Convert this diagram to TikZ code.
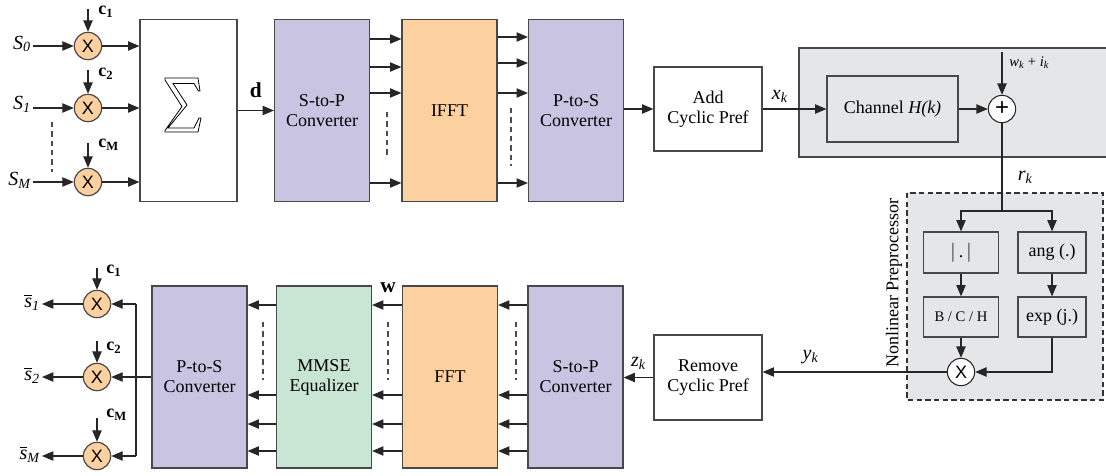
\documentclass[tikz,border=0pt]{standalone}
\usepackage{amsmath}
\usepackage{graphicx}
\usepackage{fontspec}
\setmainfont{Liberation Serif}
\newfontfamily\multfont{Liberation Sans}
\usepackage{tikz}
\usetikzlibrary{arrows.meta,calc}

\definecolor{convblue}{RGB}{201,196,226}
\definecolor{fftorange}{RGB}{253,208,159}
\definecolor{eqgreen}{RGB}{201,230,212}
\definecolor{chgray}{RGB}{229,230,232}
\definecolor{boxedge}{RGB}{72,72,72}

\begin{document}
\begin{tikzpicture}[x=0.75pt,y=0.75pt,yscale=-1,xscale=1,
  font=\fontsize{13.5}{15}\selectfont,
  blk/.style={draw=boxedge,line width=0.9pt,align=center,inner sep=0pt,minimum width=71.25pt},
  tallblk/.style={blk,minimum height=137pt},
  cpblk/.style={blk,minimum width=81pt,minimum height=63pt},
  nlblk/.style={blk,fill=chgray,minimum height=30pt},
  mult/.style={circle,draw=boxedge,fill=fftorange,line width=0.9pt,minimum size=20.5pt,inner sep=0pt,font=\multfont\fontsize{13.5}{13.5}\selectfont},
  sig/.style={draw=black!85,line width=0.8pt,-{Triangle[length=8.5pt,width=7pt]}},
  wire/.style={draw=black!85,line width=0.8pt},
  dots/.style={draw=black!70,line width=0.8pt,dash pattern=on 4pt off 3pt},
  lbl/.style={inner sep=1.5pt},
  symlbl/.style={lbl,font=\fontsize{15}{15}\selectfont},
]
\useasboundingbox (0,0) rectangle (1106,475);

%Shape: Rectangle (gray backgrounds)
\path[draw=boxedge,line width=0.9pt,fill=chgray] (799,48) rectangle (1112,157);
\path[draw=black!80,line width=0.8pt,dash pattern=on 4pt off 2.5pt,fill=chgray] (907,193) rectangle (1103,400);

%%% transmitter
%Shape: Circle
\node[mult] (m1) at (88,46) {X};
\node[mult] (m2) at (88,108) {X};
\node[mult] (m3) at (88,182) {X};
%Text
\node[symlbl,anchor=east] (s0) at (33,44) {\textit{S}$_{\textit{0}}$};
\node[symlbl,anchor=east] (s1) at (33,104) {\textit{S}$_{\textit{1}}$};
\node[symlbl,anchor=east] (sM) at (33,180) {\textit{S}$_{\textit{M}}$};
\node[lbl,anchor=west] (c1) at (96,12) {\textbf{c}$_{\textbf{1}}$};
\node[lbl,anchor=west] (c2) at (96,74) {\textbf{c}$_{\textbf{2}}$};
\node[lbl,anchor=west] (cM) at (96,145) {\textbf{c}$_{\textbf{M}}$};
\coordinate (c1in) at (88,9);
\coordinate (c2in) at (88,70);
\coordinate (cMin) at (88,143);

%Shape: Rectangle
\node[tallblk,minimum width=72.75pt] (sum) at (188.5,110.5) {};
\node[tallblk,fill=convblue] (s2p) at (322,110.5) {S-to-P\\Converter};
\node[tallblk,fill=fftorange] (ifft) at (449.5,110.5) {IFFT};
\node[tallblk,fill=convblue] (p2s) at (576,110.5) {P-to-S\\Converter};
\node[cpblk] (add) at (708,109) {Add\\Cyclic Pref};
\node[blk,fill=chgray,minimum width=98.25pt,minimum height=49.5pt] (chan) at (892.5,109) {Channel \textit{H(k)}};
\node[circle,draw=black!85,fill=white,line width=0.8pt,minimum size=20.5pt,inner sep=0pt,font=\multfont\fontsize{18}{18}\selectfont] (plus) at (1002,109) {+};

%Shape: Polygon (hollow sigma)
\begin{scope}[shift={(sum.center)}]
\draw[line width=0.6pt,fill=white] (-23.5,-32.5) -- (9.5,-32.5) -- (11.5,-19.5) -- (10,-19.5) -- (5.5,-27) -- (-15.5,-27) -- (-1.5,-5.5) -- (-20.5,17.5) -- (5.5,17.5) -- (10.5,7.5) -- (12.5,7.5) -- (9.5,21.5) -- (-23.5,21.5) -- (-23.5,20) -- (-6.5,-4) -- (-23.5,-30.5) -- cycle;
\end{scope}

%Straight Lines
\draw[sig] (s0.east |- m1) -- (m1);
\draw[sig] (s1.east |- m2) -- (m2);
\draw[sig] (sM.east |- m3) -- (m3);
\draw[sig] (c1in) -- (m1);
\draw[sig] (c2in) -- (m2);
\draw[sig] (cMin) -- (m3);
\draw[dots] (52,122) -- (52,172);
\foreach \m in {m1,m2,m3}
  \draw[sig] (\m) -- (\m -| sum.west);
\draw[sig] (sum) -- (s2p) node[pos=0.5,above=6pt,font=\fontsize{16}{16}\selectfont\bfseries] (dlbl) {d};
\foreach \y in {39,67,93,183}
  \draw[sig] (s2p.east |- 0,\y) -- (ifft.west |- 0,\y);
\foreach \y in {37,63,93,183}
  \draw[sig] (ifft.east |- 0,\y) -- (p2s.west |- 0,\y);
\draw[dots] (387,112) -- (387,158);
\draw[dots] (511,108) -- (511,166);
\draw[sig] (p2s.east |- add) -- (add);
\draw[sig] (add) -- (chan) node[symlbl,pos=0.27,above=3pt] (xk) {\textit{x}$_{\textit{k}}$};
\draw[sig] (chan) -- (plus);
\coordinate (noise) at (1002,52);
\draw[sig] (noise) -- (plus);
\node[lbl,anchor=west,font=\fontsize{11}{11}\selectfont] (wi) at (1007,63) {\textit{w}$_{\textit{k}}$ + \textit{i}$_{\textit{k}}$};

%%% nonlinear preprocessor
\node[lbl,rotate=90] (nlp) at (894,283) {Nonlinear Preprocessor};
\node[nlblk,minimum width=56.25pt,minimum height=30.75pt] (absv) at (961,252.5) {$|$\,.\,$|$};
\node[nlblk,minimum width=51pt,minimum height=30.75pt] (ang) at (1052,252.5) {ang (.)};
\node[nlblk,minimum width=56.25pt,font=\fontsize{11}{11}\selectfont] (bch) at (961,317) {B / C / H};
\node[nlblk,minimum width=51pt] (expj) at (1052,317) {exp (j.)};
\node[circle,draw=black!85,fill=white,line width=0.8pt,minimum size=20.5pt,inner sep=0pt,font=\multfont\fontsize{13.5}{13.5}\selectfont] (mr) at (961,372) {X};
\coordinate (split) at (1002,211);
\draw[wire] (plus) -- (split) node[symlbl,pos=0.62,right=10pt] (rk) {\textit{r}$_{\textit{k}}$};
\draw[sig] (split) -| (absv);
\draw[sig] (split) -| (ang);
\draw[sig] (absv) -- (bch);
\draw[sig] (ang) -- (expj);
\draw[sig] (bch) -- (mr);
\draw[sig] (expj) |- (mr);

%%% receiver
\node[cpblk,minimum height=63.75pt] (rem) at (708,377.5) {Remove\\Cyclic Pref};
\node[tallblk,fill=convblue,minimum height=136.5pt] (s2pb) at (575.5,377) {S-to-P\\Converter};
\node[tallblk,fill=fftorange,minimum height=136.5pt] (fft) at (450,377) {FFT};
\node[tallblk,fill=eqgreen,minimum height=136.5pt] (mmse) at (324,377) {MMSE\\Equalizer};
\node[tallblk,fill=convblue,minimum height=136.5pt] (p2sb) at (199.5,377) {P-to-S\\Converter};
\draw[sig] (mr) -- (mr -| rem.east) node[symlbl,pos=0.74,above=4pt] (yk) {\textit{y}$_{\textit{k}}$};
\draw[sig] (rem) -- (rem -| s2pb.east) node[symlbl,pos=0.5,above=4pt] (zk) {\textit{z}$_{\textit{k}}$};
\foreach \y in {305,395,424,451} {
  \draw[sig] (s2pb.west |- 0,\y) -- (fft.east |- 0,\y);
  \draw[sig] (fft.west |- 0,\y) -- (mmse.east |- 0,\y);
  \draw[sig] (mmse.west |- 0,\y) -- (p2sb.east |- 0,\y);
}
\draw[dots] (516,322) -- (516,380);
\draw[dots] (388,322) -- (388,380);
\draw[dots] (263,322) -- (263,380);
\node[lbl,font=\fontsize{16}{16}\selectfont\bfseries] (wlbl) at (388,288) {w};

%Shape: Circle
\node[mult] (o1) at (97,304) {X};
\node[mult] (o2) at (97,377) {X};
\node[mult] (o3) at (97,456) {X};
\coordinate (bus) at (136,377);
\draw[sig] (p2sb.west) -- (o2);
\draw[wire] (bus |- o1) -- (bus |- o3);
\draw[sig] (bus |- o1) -- (o1);
\draw[sig] (bus |- o3) -- (o3);
\node[lbl,anchor=west] (oc1) at (104,271) {\textbf{c}$_{\textbf{1}}$};
\node[lbl,anchor=west] (oc2) at (104,348) {\textbf{c}$_{\textbf{2}}$};
\node[lbl,anchor=west] (ocM) at (104,415) {\textbf{c}$_{\textbf{M}}$};
\coordinate (oc1in) at (97,268);
\coordinate (oc2in) at (97,341);
\coordinate (ocMin) at (97,418);
\draw[sig] (oc1in) -- (o1);
\draw[sig] (oc2in) -- (o2);
\draw[sig] (ocMin) -- (o3);
\node[symlbl,anchor=east] (so1) at (42,302) {$\overline{\textit{s}}_{\textit{1}}$};
\node[symlbl,anchor=east] (so2) at (42,375) {$\overline{\textit{s}}_{\textit{2}}$};
\node[symlbl,anchor=east] (soM) at (42,454) {$\overline{\textit{s}}_{\textit{M}}$};
\draw[sig] (o1) -- (so1.east |- o1);
\draw[sig] (o2) -- (so2.east |- o2);
\draw[sig] (o3) -- (soM.east |- o3);
\end{tikzpicture}
\end{document}
